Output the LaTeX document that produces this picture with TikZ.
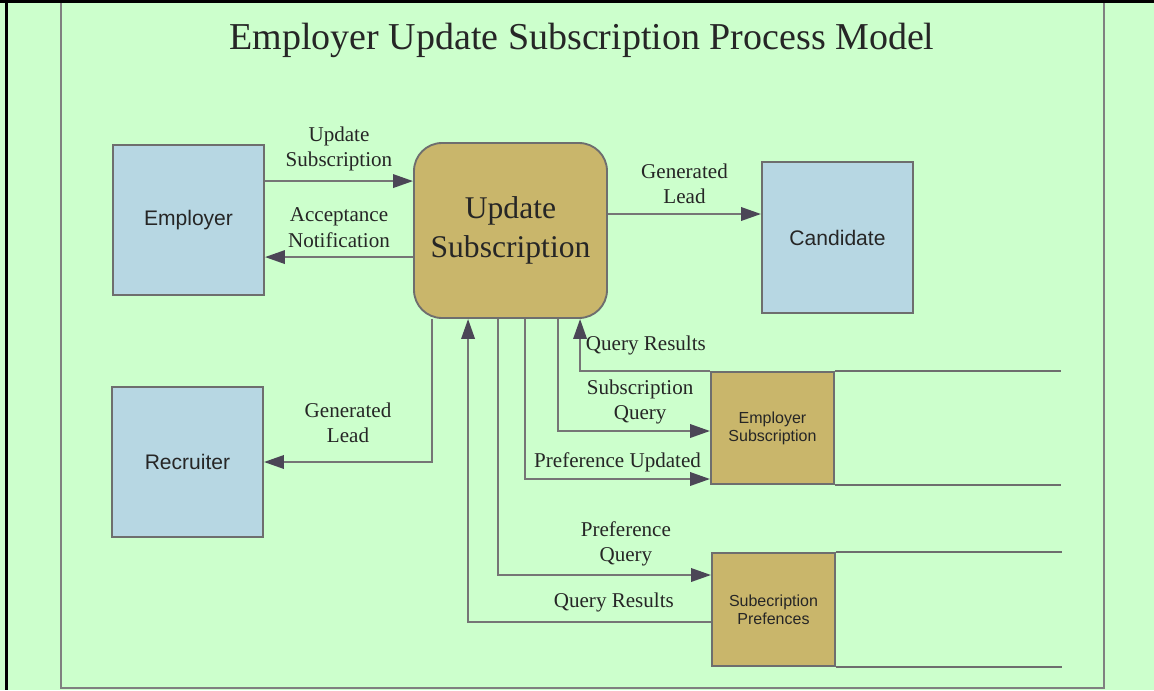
\documentclass[tikz,border=0pt]{standalone}
\usepackage{fontspec}
\setmainfont{Liberation Serif}
\setsansfont{Liberation Sans}
\usepackage{tikz}
\usetikzlibrary{positioning,arrows.meta,calc}
\definecolor{bgcol}{HTML}{CCFFCC}
\definecolor{extcol}{HTML}{B7D7E3}
\definecolor{proccol}{HTML}{C9B66B}
\definecolor{edgecol}{HTML}{6E6E6E}
\definecolor{linecol}{HTML}{757575}
\definecolor{tipcol}{HTML}{4B4656}
\tikzset{
  ext/.style={draw=edgecol, line width=1.4pt, fill=extcol, text=black!85,
    font=\sffamily\fontsize{15.8}{19}\selectfont,
    minimum width=113.25pt, minimum height=112.5pt},
  dstore/.style={draw=edgecol, line width=1.4pt, fill=proccol, text=black!85,
    font=\sffamily\fontsize{12}{13.5}\selectfont, align=center,
    minimum width=92.25pt, minimum height=84pt}}

\begin{document}
\begin{tikzpicture}[x=0.75pt, y=-0.75pt,
    lbl/.style={font=\fontsize{15.8}{18.8}\selectfont, align=center,
      inner sep=1.5pt, text=black!85},
    proc/.style={draw=edgecol, line width=1.4pt, fill=proccol, text=black!85,
      rounded corners=21pt, align=center,
      font=\fontsize{23.7}{29}\selectfont,
      minimum width=144.75pt, minimum height=131.25pt},
    flow/.style={draw=linecol, line width=1.8pt,
      -{Triangle[length=15pt, width=10pt, color=tipcol]}},
    store/.style={draw=edgecol, line width=1.4pt}]
  \fill[bgcol] (0,0) rectangle (1154,690);
  \useasboundingbox (0,0) rectangle (1154,690);
  \fill[black] (0,0) rectangle (1154,3);
  \fill[black] (5,0) rectangle (8,690);
  \draw[black!50, line width=1.5pt] (61,3) -- (61,688) -- (1104,688) -- (1104,3);

  \node[font=\fontsize{28.5}{34}\selectfont, text=black!85] (title) at (582,40)
    {Employer Update Subscription Process Model};

  \node[ext] (emp) at (188.5,220) {Employer};
  \node[ext] (rec) at (187.5,462) {Recruiter};
  \node[ext, minimum height=113.25pt] (cand) at (837.5,237.5) {Candidate};
  \node[proc] (upd) at (510.5,230.5) {Update\\Subscription};
  \node[dstore] (esub) at (772.5,428) {Employer\\Subscription};
  \node[dstore, minimum height=84.75pt] (spref) at (773.5,609.5) {Subecription\\Prefences};

  % open sides of the two data stores
  \draw[store] (esub.north east) -- ++(226,0) (esub.south east) -- ++(226,0);
  \draw[store] (spref.north east) -- ++(226,0) (spref.south east) -- ++(226,0);

  \coordinate (us) at ($(emp.north east)+(0,37)$);
  \coordinate (an) at ($(emp.north east)+(0,113)$);
  \coordinate (gl) at ($(upd.east)+(0,-16.5)$);
  \draw[flow] (us) -- (us -| upd.west)
    node[lbl, midway, above=5pt] {Update\\Subscription};
  \draw[flow] (an -| upd.west) -- (an)
    node[lbl, midway, above=5pt] {Acceptance\\Notification};
  \draw[flow] (gl) -- (gl -| cand.west)
    node[lbl, midway, above=5pt] {Generated\\Lead};
  \draw[flow] ($(upd.south west)+(19,0)$) |- (rec.east)
    node[lbl, pos=0.75, above=12pt] {Generated\\Lead};
  \draw[flow] ($(spref.west)+(0,12.5)$) -| ($(upd.south west)+(55,0)$)
    node[lbl, pos=0.2, above=5pt] {Query Results};
  \draw[flow] ($(upd.south west)+(85,0)$) |- ($(spref.west)+(0,-34.5)$)
    node[lbl, pos=0.8, above=4pt] {Preference\\Query};
  \draw[flow] ($(upd.south west)+(112,0)$) |- ($(esub.west)+(0,51)$)
    node[lbl, pos=0.75, above=3pt] {Preference Updated};
  \draw[flow] ($(upd.south west)+(145,0)$) |- ($(esub.west)+(0,3)$)
    node[lbl, pos=0.77, above=3pt] {Subscription\\Query};
  \draw[flow] (esub.north west) -| ($(upd.south west)+(167,0)$)
    node[lbl, pos=0.75, anchor=west, xshift=2pt] {Query Results};
\end{tikzpicture}
\end{document}
